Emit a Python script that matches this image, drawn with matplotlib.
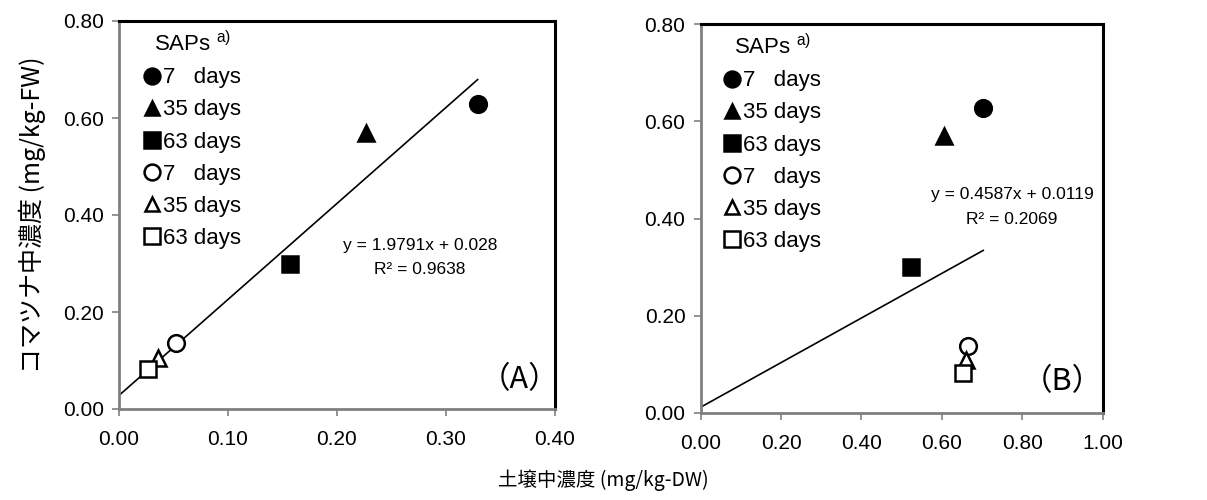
import matplotlib
matplotlib.use("Agg")
import matplotlib.pyplot as plt
import numpy as np

plt.rcParams["font.family"] = ["Liberation Sans", "Noto Sans CJK JP", "DejaVu Sans"]
plt.rcParams["mathtext.fontset"] = "custom"
plt.rcParams["mathtext.rm"] = "Liberation Sans"

# データ
labels = ["7   days", "35 days", "63 days", "7   days", "35 days", "63 days"]
markers = ["o", "^", "s", "o", "^", "s"]
filled = [True, True, True, False, False, False]

a_x = [0.329, 0.227, 0.157, 0.052, 0.036, 0.027]
a_y = [0.628, 0.569, 0.299, 0.137, 0.106, 0.082]
b_x = [0.703, 0.606, 0.523, 0.664, 0.659, 0.653]
b_y = [0.628, 0.569, 0.300, 0.138, 0.108, 0.082]

a_fit = (1.9791, 0.028)
b_fit = (0.4587, 0.0119)
a_eq = ["y = 1.9791x + 0.028", "R² = 0.9638"]
b_eq = ["y = 0.4587x + 0.0119", "R² = 0.2069"]

a_xticks = [0.0, 0.1, 0.2, 0.3, 0.4]
b_xticks = [0.0, 0.2, 0.4, 0.6, 0.8, 1.0]
yticks = [0.0, 0.2, 0.4, 0.6, 0.8]


def draw_panel(ax, xs, ys, fit, eq, xticks, tag, eq_pos, tag_pos):
    for x, y, m, f, lab in zip(xs, ys, markers, filled, labels):
        ax.plot(x, y, linestyle="none", marker=m, markersize=12 if m != "^" else 11,
                markerfacecolor="black" if f else "white", markeredgecolor="black",
                markeredgewidth=1.8, label=lab, zorder=3)

    lx = np.array([0.0, max(xs)])
    ax.plot(lx, fit[0] * lx + fit[1], color="black", linewidth=1.2, zorder=2)

    ax.text(eq_pos[0], eq_pos[1], eq[0] + "\n" + eq[1], ha="center", va="center",
            fontsize=12.5, linespacing=1.8, transform=ax.transAxes)
    ax.text(tag_pos[0], tag_pos[1], tag, ha="right", va="center", fontsize=22,
            family=["Noto Sans CJK JP"], transform=ax.transAxes)

    ax.set_xlim(xticks[0], xticks[-1])
    ax.set_ylim(0, 0.8)
    ax.set_xticks(xticks)
    ax.set_yticks(yticks)
    ax.set_xticklabels([f"{t:.2f}" for t in xticks], fontsize=15)
    ax.set_yticklabels([f"{t:.2f}" for t in yticks], fontsize=15)
    ax.tick_params(direction="out", length=5, width=1.2, color="#808080", pad=6)
    ax.tick_params(axis="x", pad=10)

    for s in ["top", "right"]:
        ax.spines[s].set_color("black")
        ax.spines[s].set_linewidth(2.2)
    for s in ["left", "bottom"]:
        ax.spines[s].set_color("#808080")
        ax.spines[s].set_linewidth(2.0)

    leg = ax.legend(loc="upper left", bbox_to_anchor=(0.034, 1.0), frameon=False,
                    title="SAPs $^{\\mathrm{a)}}$", fontsize=16, title_fontsize=16,
                    handlelength=0.7, handletextpad=0.15, labelspacing=0.5,
                    borderaxespad=0.15, borderpad=0.3, markerscale=0.95)
    return leg


fig = plt.figure(figsize=(12.07, 5.0), dpi=100)
ax_a = fig.add_axes([0.0986, 0.182, 0.3612, 0.776])
ax_b = fig.add_axes([0.5805, 0.174, 0.333, 0.778])

draw_panel(ax_a, a_x, a_y, a_fit, a_eq, a_xticks, "（A）", (0.69, 0.39), (1.01, 0.075))
draw_panel(ax_b, b_x, b_y, b_fit, b_eq, b_xticks, "（B）", (0.775, 0.53), (1.0, 0.08))

ax_a.set_ylabel("コマツナ中濃度 (mg/kg-FW)", fontsize=18, family=["Noto Sans CJK JP"], labelpad=12)
fig.text(0.5, 0.04, "土壌中濃度 (mg/kg-DW)", ha="center", va="center", fontsize=14,
         family=["Noto Sans CJK JP"])

fig.savefig("out.png", dpi=100)
